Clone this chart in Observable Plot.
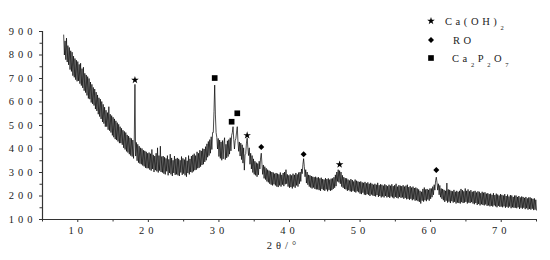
<!DOCTYPE html>
<html><head><meta charset="utf-8">
<script src="https://cdn.jsdelivr.net/npm/d3@7"></script>
<script src="https://cdn.jsdelivr.net/npm/@observablehq/plot@0.6"></script>
<style>
html,body{margin:0;padding:0;background:#fff;}
#chart svg text{letter-spacing:4px;}
#chart svg .legend text{letter-spacing:3.6px;}
</style>
</head><body><div id="chart"></div>
<script>
const startAngle = 8.0;
const stepAngle = 0.1;
const intensity = [
  885, 800, 860, 780, 872, 770, 840, 758, 832, 738, 818, 730, 812, 712, 795, 705, 785, 695, 778, 688,
  772, 690, 760, 678, 765, 670, 742, 660, 748, 648, 722, 640, 715, 628, 708, 615, 700, 612, 685, 598,
  675, 592, 662, 585, 655, 570, 642, 562, 630, 548, 618, 538, 612, 528, 602, 515, 590, 508, 578, 495,
  565, 495, 555, 482, 580, 478, 548, 470, 542, 458, 535, 450, 528, 442, 520, 438, 512, 432, 505, 425,
  495, 425, 488, 418, 480, 405, 475, 398, 470, 390, 460, 385, 455, 378, 448, 372, 445, 368, 438, 360,
  430, 675, 370, 428, 350, 420, 342, 412, 338, 405, 335, 402, 330, 395, 326, 392, 320, 388, 318, 382,
  318, 385, 312, 380, 308, 398, 315, 375, 302, 370, 310, 382, 305, 405, 300, 372, 308, 412, 302, 368,
  300, 370, 295, 365, 292, 360, 305, 372, 288, 356, 298, 378, 292, 362, 285, 352, 298, 370, 290, 358,
  292, 362, 288, 358, 285, 352, 300, 368, 290, 360, 295, 355, 288, 365, 282, 350, 298, 372, 292, 358,
  302, 370, 300, 375, 305, 380, 310, 372, 312, 388, 318, 382, 320, 395, 325, 392, 332, 402, 335, 400,
  345, 410, 352, 422, 365, 432, 372, 440, 382, 452, 398, 470, 470, 560, 672, 545, 470, 450, 400, 445,
  368, 438, 360, 430, 352, 436, 358, 425, 448, 355, 420, 362, 435, 368, 440, 378, 448, 392, 458, 470,
  495, 440, 400, 435, 445, 472, 495, 430, 390, 430, 370, 425, 355, 418, 340, 405, 310, 375, 380, 425,
  446, 405, 372, 405, 335, 382, 315, 372, 300, 358, 292, 348, 288, 342, 282, 338, 290, 348, 315, 362,
  382, 335, 292, 332, 275, 325, 270, 318, 262, 312, 258, 308, 252, 305, 248, 302, 245, 300, 250, 295,
  245, 298, 240, 295, 238, 292, 245, 300, 240, 290, 248, 298, 242, 302, 250, 312, 252, 292, 240, 288,
  235, 292, 238, 288, 232, 295, 240, 290, 235, 298, 245, 292, 240, 300, 252, 302, 262, 315, 295, 335,
  359, 325, 282, 312, 255, 302, 248, 290, 240, 288, 236, 285, 232, 282, 236, 280, 230, 282, 228, 278,
  228, 280, 225, 275, 222, 278, 230, 272, 225, 270, 222, 276, 228, 272, 220, 275, 226, 270, 222, 274,
  225, 275, 230, 280, 235, 290, 242, 302, 262, 312, 258, 308, 252, 302, 240, 288, 235, 280, 230, 276,
  228, 275, 222, 270, 225, 266, 220, 272, 218, 268, 222, 262, 218, 270, 215, 265, 220, 262, 216, 260,
  210, 262, 208, 258, 214, 256, 206, 260, 204, 254, 208, 258, 205, 252, 200, 256, 206, 252, 202, 248,
  200, 252, 198, 248, 204, 256, 196, 246, 200, 250, 194, 248, 198, 244, 194, 250, 200, 246, 194, 242,
  196, 248, 192, 244, 198, 250, 194, 242, 190, 246, 196, 252, 192, 240, 190, 246, 196, 244, 192, 242,
  194, 246, 188, 240, 192, 244, 186, 248, 188, 238, 184, 242, 188, 236, 182, 240, 186, 234, 180, 236,
  182, 232, 178, 228, 175, 222, 168, 218, 180, 230, 176, 236, 182, 228, 178, 230, 185, 226, 180, 232,
  188, 232, 195, 240, 205, 248, 225, 265, 280, 258, 225, 252, 205, 245, 195, 232, 188, 230, 182, 226,
  175, 222, 180, 255, 172, 228, 176, 226, 170, 222, 178, 220, 172, 226, 175, 218, 168, 222, 172, 218,
  170, 222, 168, 230, 174, 225, 170, 220, 172, 232, 175, 222, 168, 228, 172, 220, 170, 225, 174, 218,
  168, 220, 165, 222, 170, 215, 162, 220, 166, 218, 160, 212, 165, 218, 162, 214, 160, 216, 164, 210,
  158, 212, 160, 208, 156, 210, 158, 205, 155, 212, 160, 204, 156, 210, 152, 206, 158, 202, 154, 208,
  155, 205, 152, 202, 156, 208, 150, 200, 154, 206, 150, 198, 155, 204, 148, 202, 152, 196, 150, 202,
  150, 202, 148, 196, 152, 200, 145, 194, 150, 198, 146, 196, 150, 192, 144, 196, 148, 190, 142, 194,
  145, 194, 142, 190, 146, 188, 140, 190, 142, 184, 140
];

// phase markers
const caOH2Angle = [18.1, 34.0, 47.1];
const caOH2Mark  = [694, 458, 334];
const roAngle    = [36.0, 42.0, 60.8];
const roMark     = [409, 378, 311];
const ca2p2o7Angle = [29.4, 31.8, 32.6];
const ca2p2o7Mark  = [702, 516, 552];

const xDomain = [5, 75];
const yDomain = [100, 900];
const xTicks = [10, 20, 30, 40, 50, 60, 70];
const xMinor = [5, 15, 25, 35, 45, 55, 65, 75];
const yTicks = [100, 200, 300, 400, 500, 600, 700, 800, 900];
const yMinor = [150, 250, 350, 450, 550, 650, 750, 850];
const xLabel = "2θ/°";

const pattern = intensity.map((v, i) => ({angle: +(startAngle + i * stepAngle).toFixed(1), counts: v}));
const pts = (a, b) => a.map((x, i) => ({angle: x, counts: b[i]}));

const ink = "#222";
const plot = Plot.plot({
  width: 550, height: 260,
  marginLeft: 42, marginRight: 14, marginTop: 31, marginBottom: 41,
  style: {fontFamily: "'Liberation Serif', 'DejaVu Serif', serif", fontSize: "10.5px", color: ink, background: "#fff", overflow: "visible"},
  x: {domain: xDomain},
  y: {domain: yDomain},
  marks: [
    Plot.line(pattern, {x: "angle", y: "counts", stroke: "#000", strokeWidth: 0.7}),
    Plot.dot(pts(caOH2Angle, caOH2Mark), {x: "angle", y: "counts", symbol: "star", r: 2.4, fill: "#000", stroke: "none"}),
    Plot.dot(pts(roAngle, roMark), {x: "angle", y: "counts", symbol: "diamond2", r: 2.7, fill: "#000", stroke: "none"}),
    Plot.dot(pts(ca2p2o7Angle, ca2p2o7Mark), {x: "angle", y: "counts", symbol: "square", r: 3.2, fill: "#000", stroke: "none"}),
    Plot.ruleX([xDomain[0]], {stroke: "#333", strokeWidth: 1.2}),
    Plot.ruleY([yDomain[0]], {stroke: "#333", strokeWidth: 1.2}),
    Plot.axisX(xTicks, {tickSize: 3, tickPadding: 4, label: null, stroke: "#333"}),
    Plot.axisX(xMinor, {tickSize: 2.5, tickFormat: () => "", label: null, stroke: "#333"}),
    Plot.axisY(yTicks, {tickSize: 3, tickPadding: 3, label: null, stroke: "#333"}),
    Plot.axisY(yMinor, {tickSize: 2.5, tickFormat: () => "", label: null, stroke: "#333"}),
    Plot.text([xLabel], {frameAnchor: "bottom", dy: 29, dx: -6, fill: ink, fontSize: 10.5})
  ]
});
document.getElementById("chart").appendChild(plot);

// legend (layout only)
const svg = d3.select(plot);
const lg = svg.append("g").attr("class", "legend").attr("fill", ink).attr("text-anchor", "start")
  .style("font-family", "'Liberation Serif', 'DejaVu Serif', serif").style("font-size", "10.5px");
const items = [
  {sym: d3.symbolStar, size: 18, y: 21, parts: [["Ca(OH)", 0], ["2", 1]], tx: 445},
  {sym: d3.symbolDiamond2, size: 23, y: 40, parts: [["RO", 0]], tx: 453},
  {sym: d3.symbolSquare, size: 32, y: 58, parts: [["Ca", 0], ["2", 1], ["P", 0], ["2", 1], ["O", 0], ["7", 1]], tx: 452}
];
for (const it of items) {
  lg.append("path").attr("d", d3.symbol(it.sym, it.size)()).attr("transform", `translate(431,${it.y})`).attr("fill", "#000");
  const t = lg.append("text").attr("x", it.tx).attr("y", it.y).attr("dy", "0.35em").attr("text-anchor", "start");
  let sub = false;
  for (const [s, isSub] of it.parts) {
    const ts = t.append("tspan").text(s);
    if (isSub && !sub) { ts.attr("dy", 5).style("font-size", "6.5px"); sub = true; }
    else if (!isSub && sub) { ts.attr("dy", -5); sub = false; }
    else if (isSub) ts.style("font-size", "6.5px");
  }
}
</script>
</body></html>
